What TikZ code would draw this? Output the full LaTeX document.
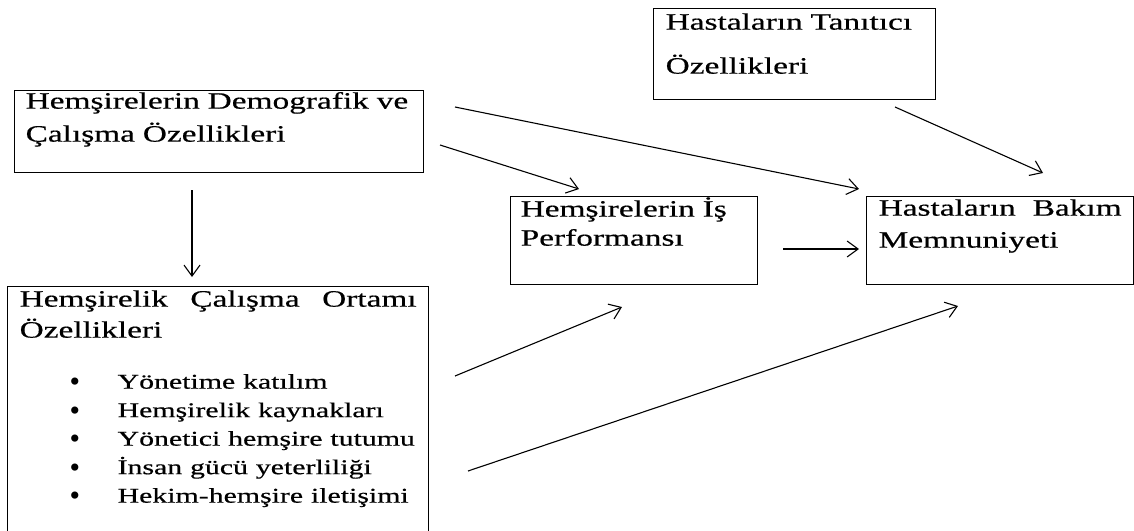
\documentclass[tikz,border=0pt]{standalone}
\usepackage{fontspec}
\setmainfont{Liberation Serif}[FakeStretch=1.42, FakeBold=0.5]
\newfontfamily\maddefont{Liberation Serif}
\usepackage{tikz}
\usetikzlibrary{arrows.meta}
\newcommand{\madde}{\makebox[98pt][l]{\hspace{50pt}\raisebox{-3pt}{\maddefont\fontsize{30}{30}\selectfont\textbullet}}}

\begin{document}
\begin{tikzpicture}[
  kutu/.style={draw=black, line width=1.3pt, anchor=north west, align=left, inner ysep=0pt, font=\fontsize{23.5}{31}\selectfont},
  ok/.style={line width=1.1pt, color=black, -{Straight Barb[length=11pt, width=16pt]}}]
\clip (0pt, 0pt) rectangle (1134pt, -530pt);
% kutular
\node (1) [kutu, inner xsep=11pt, text width=387pt, text height=18pt, text depth=64pt] at (14pt, -90pt) {Hemşirelerin Demografik ve\\[2pt]Çalışma Özellikleri};
\node (2) [kutu, inner xsep=12pt, text width=258pt, text height=21pt, text depth=70pt] at (653pt, -8pt) {Hastaların Tanıtıcı\\[13pt]Özellikleri};
\node (3) [kutu, inner xsep=10pt, text width=227pt, text height=20pt, text depth=68pt] at (510pt, -196pt) {Hemşirelerin İş\\[-2pt]Performansı};
\node (4) [kutu, inner xsep=12pt, text width=243pt, text height=19pt, text depth=69pt] at (866pt, -196pt) {Hastaların\hfill Bakım\\[1pt]Memnuniyeti};
\node (5) [kutu, inner xsep=12pt, text width=397pt, text height=20pt, text depth=229pt] at (7pt, -286pt) {Hemşirelik\hfill Çalışma\hfill Ortamı\\Özellikleri\par\vspace{22.5pt}
{\fontsize{21}{28.5}\selectfont\madde Yönetime katılım\\\madde Hemşirelik kaynakları\\\madde Yönetici hemşire tutumu\\\madde İnsan gücü yeterliliği\\\madde Hekim-hemşire iletişimi\par}};
% ok uclari
\coordinate (s1) at (192pt, -190pt);
\coordinate (e1) at (192pt, -277pt);
\coordinate (s2) at (440pt, -145pt);
\coordinate (e2) at (579pt, -189pt);
\coordinate (s3) at (455pt, -107pt);
\coordinate (e3) at (859pt, -189pt);
\coordinate (s4) at (895pt, -107pt);
\coordinate (e4) at (1043pt, -173pt);
\coordinate (s5) at (783pt, -249pt);
\coordinate (e5) at (859pt, -249pt);
\coordinate (s6) at (455pt, -376pt);
\coordinate (e6) at (622pt, -307pt);
\coordinate (s7) at (468pt, -471pt);
\coordinate (e7) at (958pt, -306pt);
\draw [ok] (s1) to (e1);
\draw [ok] (s2) to (e2);
\draw [ok] (s3) to (e3);
\draw [ok] (s4) to (e4);
\draw [ok] (s5) to (e5);
\draw [ok] (s6) to (e6);
\draw [ok] (s7) to (e7);
\end{tikzpicture}
\end{document}
